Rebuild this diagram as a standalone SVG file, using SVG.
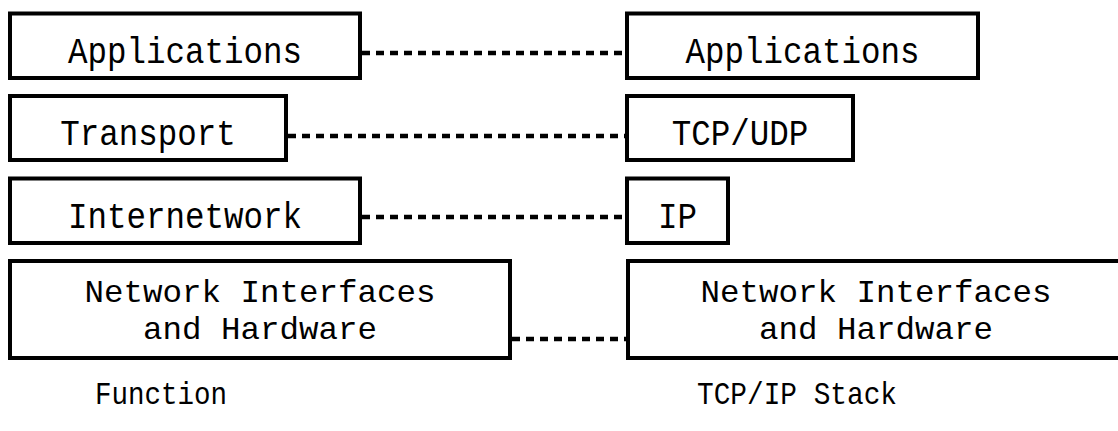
<svg xmlns="http://www.w3.org/2000/svg" width="1118" height="431" viewBox="0 0 1118 431">
<style>
.box{fill:#fff;stroke:#000;stroke-width:4}
.t{font-family:"Liberation Mono","Courier New",monospace;font-size:36.5px;fill:#000;text-anchor:middle}
.t2{font-family:"Liberation Mono","Courier New",monospace;font-size:32px;fill:#000;text-anchor:middle}
.lbl{font-family:"Liberation Mono","Courier New",monospace;font-size:32px;fill:#000;text-anchor:middle}
.c{stroke:#000;stroke-width:4.5;stroke-dasharray:8 6;fill:none}
</style>
<rect width="1118" height="431" fill="#fff"/>
<g id="connectors">
<line class="c" x1="362" y1="53" x2="627" y2="53"/>
<line class="c" x1="288" y1="136" x2="627" y2="136"/>
<line class="c" x1="362" y1="217" x2="627" y2="217"/>
<line class="c" x1="512" y1="339" x2="627" y2="339"/>
</g>
<g id="f-app"><rect class="box" x="10" y="13.5" width="350" height="64.5"/><text class="t" x="185" y="63" textLength="234" lengthAdjust="spacingAndGlyphs">Applications</text></g>
<g id="f-transport"><rect class="box" x="10" y="96" width="276" height="64"/><text class="t" x="148" y="145" textLength="175.5" lengthAdjust="spacingAndGlyphs">Transport</text></g>
<g id="f-internet"><rect class="box" x="10" y="178.5" width="350" height="64.5"/><text class="t" x="185" y="228" textLength="234" lengthAdjust="spacingAndGlyphs">Internetwork</text></g>
<g id="f-netif"><rect class="box" x="10" y="261" width="500" height="97"/><text class="t2" x="260" y="302" textLength="351" lengthAdjust="spacingAndGlyphs">Network Interfaces</text><text class="t2" x="260" y="339" textLength="234" lengthAdjust="spacingAndGlyphs">and Hardware</text></g>
<g id="s-app"><rect class="box" x="627" y="13.5" width="351" height="64.5"/><text class="t" x="802.5" y="63" textLength="234" lengthAdjust="spacingAndGlyphs">Applications</text></g>
<g id="s-tcpudp"><rect class="box" x="627" y="96" width="226" height="64"/><text class="t" x="740" y="145" textLength="136.5" lengthAdjust="spacingAndGlyphs">TCP/UDP</text></g>
<g id="s-ip"><rect class="box" x="627" y="178.5" width="101" height="64.5"/><text class="t" x="677.5" y="228" textLength="39" lengthAdjust="spacingAndGlyphs">IP</text></g>
<g id="s-netif"><rect class="box" x="628" y="261" width="496" height="97"/><text class="t2" x="876" y="302" textLength="351" lengthAdjust="spacingAndGlyphs">Network Interfaces</text><text class="t2" x="876" y="339" textLength="234" lengthAdjust="spacingAndGlyphs">and Hardware</text></g>
<text class="lbl" x="161" y="404" textLength="132" lengthAdjust="spacingAndGlyphs">Function</text>
<text class="lbl" x="797" y="404" textLength="200" lengthAdjust="spacingAndGlyphs">TCP/IP Stack</text>
</svg>
